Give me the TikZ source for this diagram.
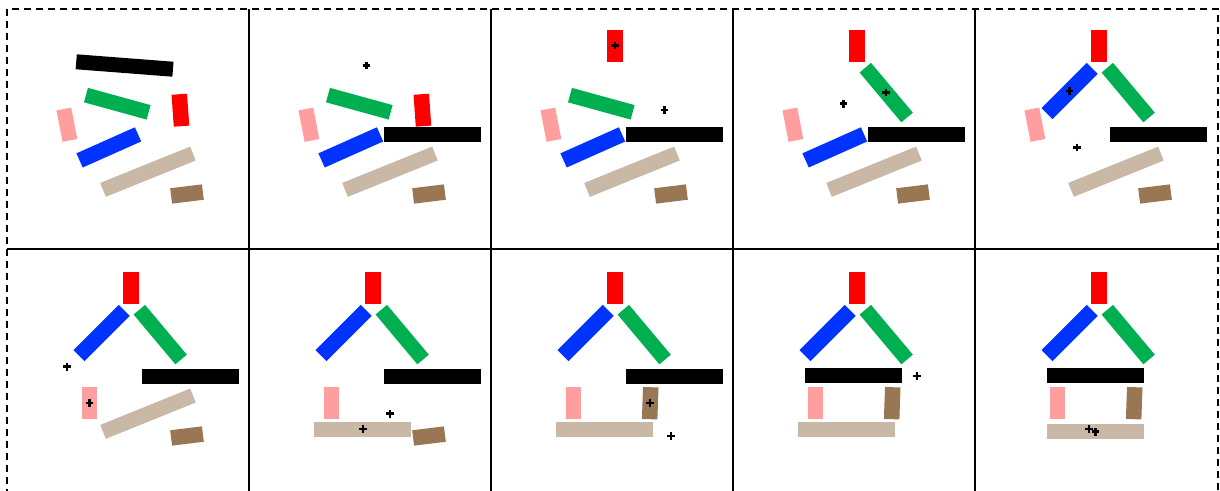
\documentclass[tikz,border=0pt]{standalone}
\definecolor{cgreen}{RGB}{0,176,80}
\definecolor{cred}{RGB}{255,0,0}
\definecolor{cpink}{RGB}{255,158,158}
\definecolor{cblue}{RGB}{0,51,255}
\definecolor{ctan}{RGB}{201,184,166}
\definecolor{cbrown}{RGB}{153,119,85}
\begin{document}
\begin{tikzpicture}[x=1pt,y=-1pt,
  piece/.style={inner sep=0pt,outer sep=0pt,draw=none},
  blk/.style={piece,minimum width=97pt,minimum height=15pt,fill=black},
  grn/.style={piece,minimum width=65pt,minimum height=15pt,fill=cgreen},
  rd/.style={piece,minimum width=15.5pt,minimum height=32pt,fill=cred},
  pnk/.style={piece,minimum width=15pt,minimum height=32pt,fill=cpink},
  blu/.style={piece,minimum width=64pt,minimum height=15.5pt,fill=cblue},
  tn/.style={piece,minimum width=97pt,minimum height=15pt,fill=ctan},
  brn/.style={piece,minimum width=32pt,minimum height=15.5pt,fill=cbrown},
  gridline/.style={line width=1.6pt,black},
  outer/.style={line width=1.6pt,black,dash pattern=on 7pt off 5pt},
  xmark/.pic={\draw[line width=2.5pt,black] (-3.8,0)--(3.8,0) (0,-3.8)--(0,3.8);}]
\useasboundingbox (0,0) rectangle (1220,490);

% ---------- Panel 1 ----------
\begin{scope}[shift={(7,9)}]
\node[rd,rotate=4] (a-red) at (173.4,101.2) {};
\node[pnk,rotate=11] (a-pink) at (59.9,115.7) {};
\node[grn,rotate=-15.4] (a-green) at (110.3,94.7) {};
\node[blu,rotate=24] (a-blue) at (101.8,138.4) {};
\node[tn,rotate=22] (a-tan) at (141,162.7) {};
\node[brn,rotate=7] (a-brown) at (180,185) {};
\node[blk,rotate=-4.4] (a-black) at (117.6,56.5) {};
\end{scope}

% ---------- Panel 2 ----------
\begin{scope}[shift={(249,9)}]
\node[rd,rotate=4] (b-red) at (173.4,101.2) {};
\node[pnk,rotate=11] (b-pink) at (59.9,115.7) {};
\node[grn,rotate=-15.4] (b-green) at (110.3,94.7) {};
\node[blu,rotate=24] (b-blue) at (101.8,138.4) {};
\node[tn,rotate=22] (b-tan) at (141,162.7) {};
\node[brn,rotate=7] (b-brown) at (180,185) {};
\node[blk] (b-black) at (183.8,125.2) {};
\pic at (117.6,56.5) {xmark};
\end{scope}

% ---------- Panel 3 ----------
\begin{scope}[shift={(491,9)}]
\node[pnk,rotate=11] (c-pink) at (59.9,115.7) {};
\node[grn,rotate=-15.4] (c-green) at (110.3,94.7) {};
\node[blu,rotate=24] (c-blue) at (101.8,138.4) {};
\node[tn,rotate=22] (c-tan) at (141,162.7) {};
\node[brn,rotate=7] (c-brown) at (180,185) {};
\node[blk] (c-black) at (183.8,125.2) {};
\node[rd] (c-red) at (124.2,36.5) {};
\pic at (124.2,36.5) {xmark};
\pic at (173.4,101.2) {xmark};
\end{scope}

% ---------- Panel 4 ----------
\begin{scope}[shift={(733,9)}]
\node[pnk,rotate=11] (d-pink) at (59.9,115.7) {};
\node[blu,rotate=24] (d-blue) at (101.8,138.4) {};
\node[tn,rotate=22] (d-tan) at (141,162.7) {};
\node[brn,rotate=7] (d-brown) at (180,185) {};
\node[blk] (d-black) at (183.8,125.2) {};
\node[rd] (d-red) at (124.2,36.5) {};
\node[grn,rotate=-50] (d-green) at (153.2,83.6) {};
\pic at (153.2,83.6) {xmark};
\pic at (110.3,94.7) {xmark};
\end{scope}

% ---------- Panel 5 ----------
\begin{scope}[shift={(975,9)}]
\node[pnk,rotate=11] (e-pink) at (59.9,115.7) {};
\node[tn,rotate=22] (e-tan) at (141,162.7) {};
\node[brn,rotate=7] (e-brown) at (180,185) {};
\node[blk] (e-black) at (183.8,125.2) {};
\node[rd] (e-red) at (124.2,36.5) {};
\node[grn,rotate=-50] (e-green) at (153.2,83.6) {};
\node[blu,rotate=45] (e-blue) at (94.6,82) {};
\pic at (94.6,82) {xmark};
\pic at (101.8,138.4) {xmark};
\end{scope}

% ---------- Panel 6 ----------
\begin{scope}[shift={(7,251)}]
\node[tn,rotate=22] (f-tan) at (141,162.7) {};
\node[brn,rotate=7] (f-brown) at (180,185) {};
\node[blk] (f-black) at (183.8,125.2) {};
\node[rd] (f-red) at (124.2,36.5) {};
\node[grn,rotate=-50] (f-green) at (153.2,83.6) {};
\node[blu,rotate=45] (f-blue) at (94.6,82) {};
\node[pnk] (f-pink) at (82.5,151.8) {};
\pic at (82.5,151.8) {xmark};
\pic at (59.9,115.7) {xmark};
\end{scope}

% ---------- Panel 7 ----------
\begin{scope}[shift={(249,251)}]
\node[brn,rotate=7] (g-brown) at (180,185) {};
\node[blk] (g-black) at (183.8,125.2) {};
\node[rd] (g-red) at (124.2,36.5) {};
\node[grn,rotate=-50] (g-green) at (153.2,83.6) {};
\node[blu,rotate=45] (g-blue) at (94.6,82) {};
\node[pnk] (g-pink) at (82.5,151.8) {};
\node[tn] (g-tan) at (113.8,178) {};
\pic at (113.8,178) {xmark};
\pic at (141,162.7) {xmark};
\end{scope}

% ---------- Panel 8 ----------
\begin{scope}[shift={(491,251)}]
\node[blk] (h-black) at (183.8,125.2) {};
\node[rd] (h-red) at (124.2,36.5) {};
\node[grn,rotate=-50] (h-green) at (153.2,83.6) {};
\node[blu,rotate=45] (h-blue) at (94.6,82) {};
\node[pnk] (h-pink) at (82.5,151.8) {};
\node[tn] (h-tan) at (113.8,178) {};
\node[brn,rotate=88] (h-brown) at (159.2,152.2) {};
\pic at (159.2,152.2) {xmark};
\pic at (180,185) {xmark};
\end{scope}

% ---------- Panel 9 ----------
\begin{scope}[shift={(733,251)}]
\node[rd] (i-red) at (124.2,36.5) {};
\node[grn,rotate=-50] (i-green) at (153.2,83.6) {};
\node[blu,rotate=45] (i-blue) at (94.6,82) {};
\node[pnk] (i-pink) at (82.5,151.8) {};
\node[tn] (i-tan) at (113.8,178) {};
\node[brn,rotate=88] (i-brown) at (159.2,152.2) {};
\node[blk] (i-black) at (120.5,124) {};
\pic at (183.8,125.2) {xmark};
\end{scope}

% ---------- Panel 10 ----------
\begin{scope}[shift={(975,251)}]
\node[rd] (j-red) at (124.2,36.5) {};
\node[grn,rotate=-50] (j-green) at (153.2,83.6) {};
\node[blu,rotate=45] (j-blue) at (94.6,82) {};
\node[pnk] (j-pink) at (82.5,151.8) {};
\node[brn,rotate=88] (j-brown) at (159.2,152.2) {};
\node[blk] (j-black) at (120.5,124) {};
\node[tn] (j-tan) at (120.5,180.7) {};
\pic at (113.8,178) {xmark};
\pic at (120.5,180.7) {xmark};
\end{scope}

% ---------- Grid ----------
\draw[gridline] (7,249) -- (1218,249);
\foreach \gx in {249,491,733,975} {\draw[gridline] (\gx,9) -- (\gx,496);}
\draw[outer] (7,496) -- (7,9) -- (1218,9) -- (1218,496);
\end{tikzpicture}
\end{document}
